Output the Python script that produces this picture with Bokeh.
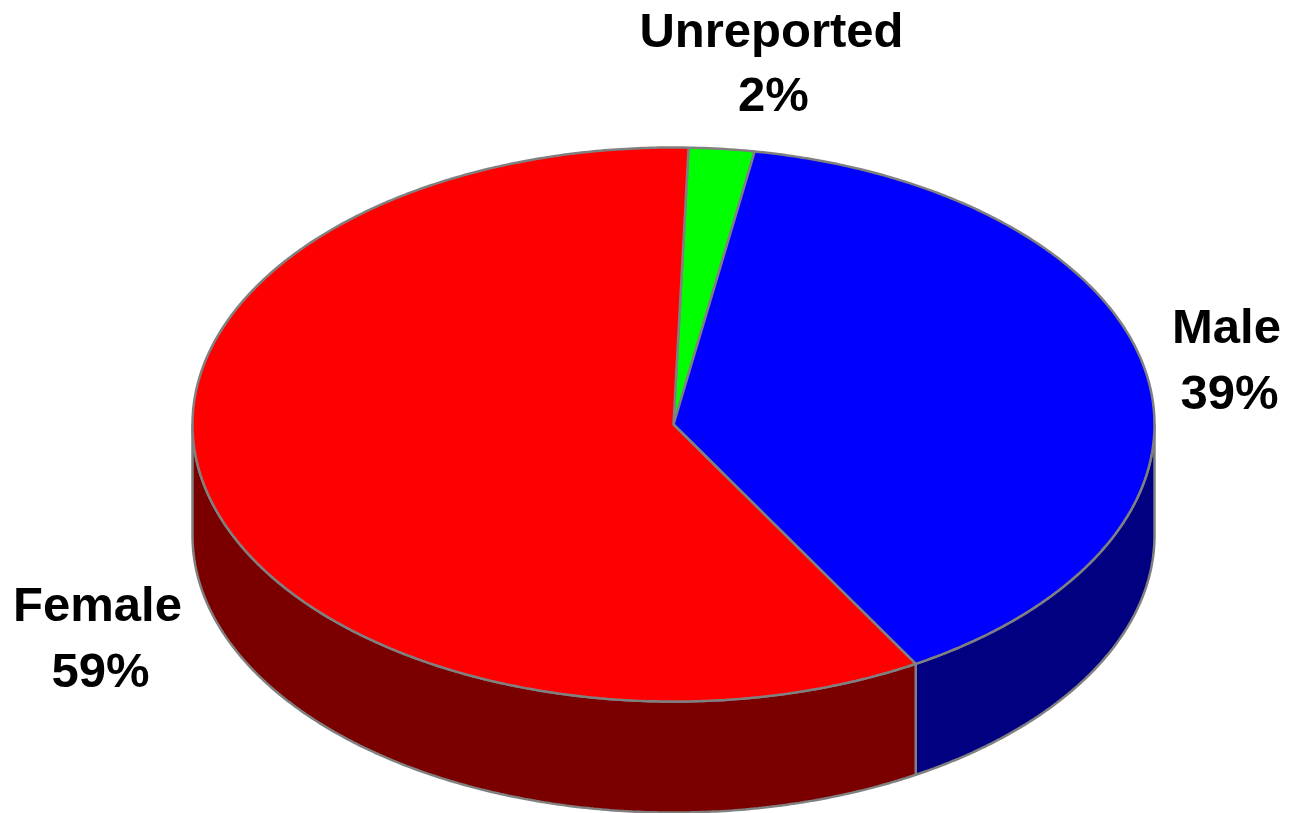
import numpy as np
from bokeh.plotting import figure
from bokeh.models import ColumnDataSource, Range1d
from bokeh.core.properties import value
from bokeh.embed import file_html
from bokeh.resources import INLINE

categories = ["Unreported", "Male", "Female"]
shares = [2.2, 38.9, 58.9]
top_colors = ["#00FF00", "#0000FF", "#FF0000"]
side_colors = ["#008000", "#000080", "#7A0000"]

W, H = 1289, 813
CX, CY, RX, RY, DEPTH = 673.0, 424.0, 481.0, 277.0, 111.0
START_DEG = 1.8
EDGE = "#808080"

p = figure(width=W, height=H, x_range=Range1d(0, W), y_range=Range1d(H, 0),
           toolbar_location=None, output_backend="svg", min_border=0)
p.axis.visible = False
p.grid.visible = False
p.outline_line_color = None
p.background_fill_color = "white"
p.border_fill_color = "white"


def rim(a0, a1):
    t = np.radians(np.linspace(a0, a1, max(int(abs(a1 - a0)) * 2, 8)))
    return CX + RX * np.sin(t), CY - RY * np.cos(t)


ang = START_DEG
spans = []
for v in shares:
    spans.append((ang, ang + v / sum(shares) * 360))
    ang = spans[-1][1]

# side wall: only the front half of the rim (90..270 degrees clockwise from top)
for (a0, a1), col in zip(spans, side_colors):
    lo, hi = max(a0, 90), min(a1, 270)
    if hi <= lo:
        continue
    x, y = rim(lo, hi)
    xs = np.concatenate([x, x[::-1]])
    ys = np.concatenate([y, y[::-1] + DEPTH])
    p.patch(xs, ys, fill_color=col, line_color=EDGE, line_width=2.5)

# top face
for (a0, a1), col in zip(spans, top_colors):
    x, y = rim(a0, a1)
    p.patch(np.r_[CX, x], np.r_[CY, y], fill_color=col, line_color=EDGE, line_width=2.5)

# labels
lx = [771, 1226, 97]
lx2 = [773, 1229, 100]
ly = [29, 325, 603]
ly2 = [93, 391, 669]
for i, c in enumerate(categories):
    src = ColumnDataSource(dict(x=[lx[i], lx2[i]], y=[ly[i], ly2[i]], t=[c, f"{round(shares[i])}%"]))
    p.text("x", "y", text="t", source=src, text_align="center", text_baseline="middle",
           text_font=value("Liberation Sans"), text_font_style="bold",
           text_font_size="49px", text_color="black")

open("out.html", "w").write(file_html(p, INLINE))
